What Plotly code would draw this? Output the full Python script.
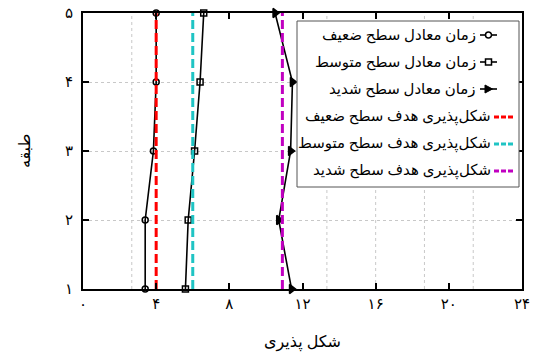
import plotly.graph_objects as go

# ---- data ----
floors = [1, 2, 3, 4, 5]
weak_time = [3.4, 3.4, 3.85, 4.0, 4.0]
medium_time = [5.6, 5.75, 6.1, 6.4, 6.6]
strong_time = [11.4, 10.7, 11.35, 11.45, 10.5]
target_weak = 4.0
target_medium = 6.0
target_strong = 10.9

x_tickvals = [0, 4, 8, 12, 16, 20, 24]
x_ticktext = ["۰", "۴", "۸", "۱۲", "۱۶", "۲۰", "۲۴"]
y_tickvals = [1, 2, 3, 4, 5]
y_ticktext = ["۱", "۲", "۳", "۴", "۵"]

legend_labels = [
    "زمان معادل سطح ضعیف",
    "زمان معادل سطح متوسط",
    "زمان معادل سطح شدید",
    "شکل‌پذیری هدف سطح ضعیف",
    "شکل‌پذیری هدف سطح متوسط",
    "شکل‌پذیری هدف سطح شدید",
]
x_title = "شکل پذیری"
y_title = "طبقه"

FONT = "Liberation Serif, DejaVu Serif, DejaVu Sans, serif"
W, H = 533, 352
L, R, T, B = 83, 11, 13, 63
PW, PH = W - L - R, H - T - B

def px(x):
    return (x - L) / PW

def py(y):
    return (H - B - y) / PH

fig = go.Figure()

series = [
    (weak_time, "circle-open", 6),
    (medium_time, "square-open", 6),
    (strong_time, "triangle-right", 8),
]
for xs, sym, sz in series:
    fig.add_trace(go.Scatter(
        x=xs, y=floors, mode="lines+markers",
        line=dict(color="black", width=1.6),
        marker=dict(symbol=sym, size=sz, color="black",
                    line=dict(color="black", width=1.5)),
        cliponaxis=False, showlegend=False))

targets = [(target_weak, "#ff0000"), (target_medium, "#1fc4c4"), (target_strong, "#c000c0")]
for v, c in targets:
    fig.add_trace(go.Scatter(
        x=[v, v], y=[floors[0], floors[-1]], mode="lines",
        line=dict(color=c, width=3, dash="9px,4px"),
        cliponaxis=False, showlegend=False))

shapes = []
# odd vertical dotted grid lines (as in reference)
for k in [1, 5, 6, 7, 8]:
    shapes.append(dict(type="line", xref="x domain", yref="y domain",
                       x0=k / 9, x1=k / 9, y0=0, y1=1, layer="below",
                       line=dict(color="#c8c8c8", width=1, dash="dot")))

# custom legend box
shapes.append(dict(type="rect", xref="paper", yref="paper",
                   x0=px(297), x1=px(519), y0=py(187), y1=py(21),
                   fillcolor="white", line=dict(color="#555", width=1)))

annotations = []
row_y = [35, 62, 89, 117, 144, 171]
text_right = [478, 478, 478, 493, 493, 493]
samp = [(480, 497), (480, 497), (480, 497), (494, 513), (494, 513), (494, 513)]
colors = ["black", "black", "black", "#ff0000", "#1fc4c4", "#c000c0"]
for i, lab in enumerate(legend_labels):
    yy = row_y[i]
    annotations.append(dict(text=lab, xref="paper", yref="paper",
                            x=px(text_right[i]), y=py(yy), xanchor="right", yanchor="middle",
                            showarrow=False, font=dict(family=FONT, size=15, color="black")))
    x0, x1 = samp[i]
    if i < 3:
        shapes.append(dict(type="line", xref="paper", yref="paper",
                           x0=px(x0), x1=px(x1), y0=py(yy), y1=py(yy),
                           line=dict(color="black", width=1.6)))
        cx = (x0 + x1) / 2
        if i == 0:
            shapes.append(dict(type="circle", xref="paper", yref="paper",
                               x0=px(cx - 3), x1=px(cx + 3), y0=py(yy + 3), y1=py(yy - 3),
                               line=dict(color="black", width=1.5), fillcolor="white"))
        elif i == 1:
            shapes.append(dict(type="rect", xref="paper", yref="paper",
                               x0=px(cx - 3), x1=px(cx + 3), y0=py(yy + 3), y1=py(yy - 3),
                               line=dict(color="black", width=1.5), fillcolor="white"))
        else:
            path = "M {} {} L {} {} L {} {} Z".format(
                px(cx - 3.5), py(yy - 4), px(cx + 4), py(yy), px(cx - 3.5), py(yy + 4))
            shapes.append(dict(type="path", xref="paper", yref="paper", path=path,
                               fillcolor="black", line=dict(color="black", width=1)))
    else:
        shapes.append(dict(type="line", xref="paper", yref="paper",
                           x0=px(x0), x1=px(x1), y0=py(yy), y1=py(yy),
                           line=dict(color=colors[i], width=3, dash="5px,2px")))

axis_common = dict(showline=True, linecolor="black", linewidth=2, mirror="ticks",
                   ticks="inside", ticklen=6, tickwidth=2, tickcolor="black",
                   zeroline=False, automargin=False,
                   tickfont=dict(family=FONT, size=15, color="black"))

fig.update_layout(
    width=W, height=H,
    margin=dict(l=L, r=R, t=T, b=B),
    paper_bgcolor="white", plot_bgcolor="white",
    xaxis=dict(range=[0, 24], tickvals=x_tickvals, ticktext=x_ticktext,
               showgrid=False, title=dict(text=x_title, font=dict(family=FONT, size=16, color="black"), standoff=28),
               **axis_common),
    yaxis=dict(range=[1, 5], tickvals=y_tickvals, ticktext=y_ticktext,
               showgrid=True, gridcolor="#c8c8c8", griddash="dot", gridwidth=1,
               ticklabelstandoff=5,
               title=dict(text=y_title, font=dict(family=FONT, size=16, color="black"), standoff=30),
               **axis_common),
    shapes=shapes, annotations=annotations,
    showlegend=False,
)

fig.write_html("out.html")
